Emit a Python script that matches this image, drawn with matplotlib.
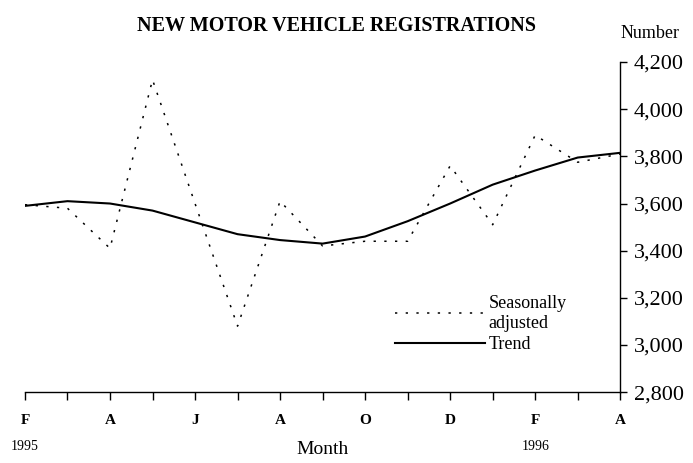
import matplotlib
matplotlib.use("Agg")
import matplotlib.pyplot as plt
from matplotlib.lines import Line2D
from matplotlib.ticker import FuncFormatter

plt.rcParams["font.family"] = ["Liberation Serif", "DejaVu Serif"]

# Monthly data, Feb 1995 to Apr 1996
months = ["F", "M", "A", "M", "J", "J", "A", "S", "O", "N", "D", "J", "F", "M", "A"]
seasonally_adjusted = [3595, 3580, 3410, 4125, 3600, 3080, 3610, 3420,
                       3440, 3440, 3760, 3510, 3890, 3775, 3810]
trend = [3590, 3610, 3600, 3570, 3520, 3470, 3445, 3430,
         3460, 3525, 3600, 3680, 3740, 3795, 3815]
year_labels = {0: "1995", 12: "1996"}
y_ticks = [2800, 3000, 3200, 3400, 3600, 3800, 4000, 4200]

x = list(range(len(months)))

fig = plt.figure(figsize=(6.93, 4.63), dpi=100)
ax = fig.add_axes([0.036, 0.153, 0.859, 0.713])

ax.plot(x, seasonally_adjusted, color="black", lw=1.1,
        linestyle=(0, (1.5, 5.5)))
ax.plot(x, trend, color="black", lw=1.5)

ax.set_xlim(0, len(months) - 1)
ax.set_ylim(2800, 4200)

for side in ("left", "top"):
    ax.spines[side].set_visible(False)
ax.spines["bottom"].set_linewidth(1.0)
ax.spines["right"].set_linewidth(1.0)

# x axis: tick every month, label every other
ax.set_xticks(x)
ax.set_xticklabels([m if i % 2 == 0 else "" for i, m in enumerate(months)],
                   fontsize=11, fontweight="bold")
ax.tick_params(axis="x", direction="out", length=6, width=1.0, pad=10)
for i, yr in year_labels.items():
    ax.text(i, -0.165, yr, transform=ax.get_xaxis_transform(),
            ha="center", va="center", fontsize=10)
ax.set_xlabel("Month", fontsize=14, labelpad=10)

# y axis on the right
ax.yaxis.tick_right()
ax.set_yticks(y_ticks)
ax.yaxis.set_major_formatter(FuncFormatter(lambda v, p: f"{int(v):,}"))
ax.tick_params(axis="y", direction="out", length=5, width=1.0, pad=5,
               labelsize=16)
ax.text(1.0, 1.06, "Number", transform=ax.transAxes, ha="left",
        va="bottom", fontsize=13)

fig.suptitle("NEW MOTOR VEHICLE REGISTRATIONS", x=0.485, y=0.965,
             fontsize=14.5, fontweight="bold")

handles = [
    Line2D([], [], color="black", lw=1.1, linestyle=(0, (1.5, 5.5))),
    Line2D([], [], color="black", lw=1.5),
]
ax.legend(handles, ["Seasonally\nadjusted", "Trend"], loc="lower left",
          bbox_to_anchor=(0.6, 0.08), frameon=False, fontsize=13,
          handlelength=5.0, handletextpad=0.2, labelspacing=0.25,
          borderpad=0.2)

fig.savefig("out.png", dpi=100)
